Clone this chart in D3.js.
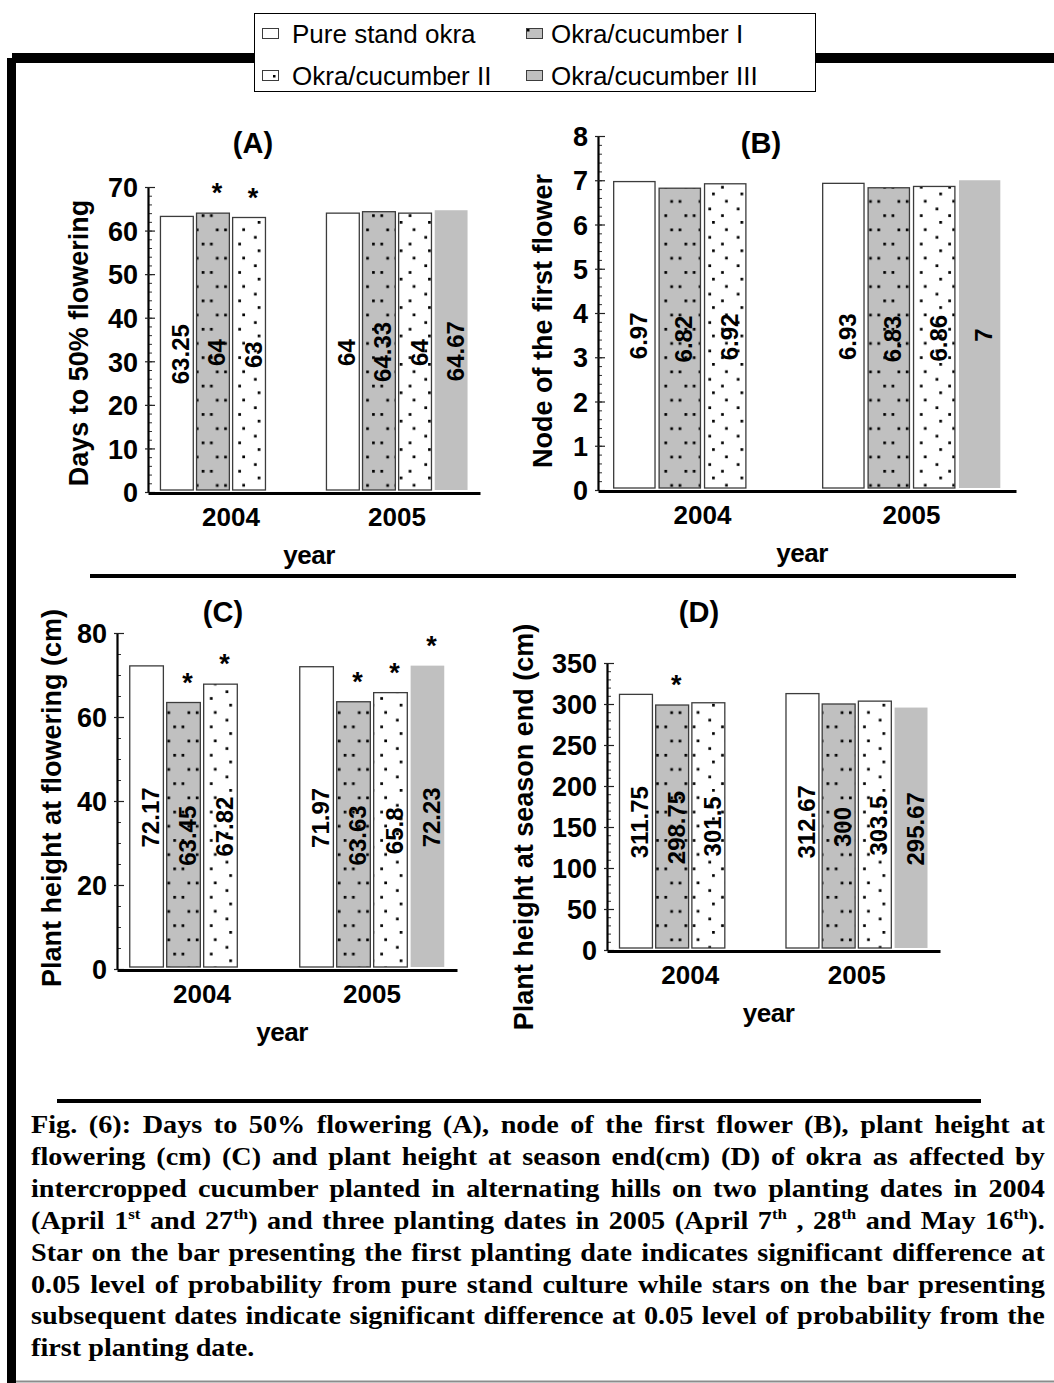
<!DOCTYPE html>
<html>
<head>
<meta charset="utf-8">
<script src="https://cdn.jsdelivr.net/npm/d3@7"></script>
<style>
  body { margin: 0; background: #fff; }
  svg { display: block; }
</style>
</head>
<body>
<svg id="fig" width="1054" height="1383"></svg>
<script>
// ---------------- data ----------------
const categories = ["2004", "2005"];
const seriesNames = ["Pure stand okra", "Okra/cucumber I", "Okra/cucumber II", "Okra/cucumber III"];

// one row per year, columns follow seriesNames (null = no third date that year)
const daysTo50Flowering = [[63.25, 64, 63, null], [64, 64.33, 64, 64.67]];
const nodeFirstFlower   = [[6.97, 6.82, 6.92, null], [6.93, 6.83, 6.86, 7]];
const heightAtFlowering = [[72.17, 63.45, 67.82, null], [71.97, 63.63, 65.8, 72.23]];
const heightSeasonEnd   = [[311.75, 298.75, 301.5, null], [312.67, 300, 303.5, 295.67]];

// significance stars (0.05 level)
const starsA = [[0, 1, 1, 0], [0, 0, 0, 0]];
const starsB = [[0, 0, 0, 0], [0, 0, 0, 0]];
const starsC = [[0, 1, 1, 0], [0, 1, 1, 1]];
const starsD = [[0, 1, 0, 0], [0, 0, 0, 0]];

// axis ticks
const ticksA = [0, 10, 20, 30, 40, 50, 60, 70];
const ticksB = [0, 1, 2, 3, 4, 5, 6, 7, 8];
const ticksC = [0, 20, 40, 60, 80];
const ticksD = [0, 50, 100, 150, 200, 250, 300, 350];
const minorStepA = 2, minorStepB = 0.2, minorStepC = 5, minorStepD = 10;

const titleA = "Days to 50% flowering";
const titleB = "Node of the first flower";
const titleC = "Plant height at flowering (cm)";
const titleD = "Plant height at  season end (cm)";

const captionLines = [
  [["Fig. (6): Days to 50% flowering (A), node of the first flower (B), plant height at"]],
  [["flowering (cm) (C) and plant height at season end(cm) (D) of okra as affected by"]],
  [["intercropped cucumber planted in alternating hills on two planting dates in 2004"]],
  [["(April 1"], ["st", 1], [" and 27"], ["th", 1], [") and three planting dates in 2005 (April 7"], ["th", 1],
   [" , 28"], ["th", 1], [" and May 16"], ["th", 1], [")."]],
  [["Star on the bar presenting the first planting date indicates significant difference at"]],
  [["0.05 level of probability from pure stand culture while stars on the bar presenting"]],
  [["subsequent dates indicate significant difference at 0.05 level of probability from the"]],
  [["first planting date."]]
];

// ---------------- setup ----------------
const W = 1054, H = 1383;
const SANS = "'Liberation Sans', Arial, Helvetica, sans-serif";
const SERIF = "'Liberation Serif', 'Times New Roman', serif";
const svg = d3.select("#fig");
const defs = svg.append("defs");

// dotted fills
const TILE = 28.4, DOT = 2.7;
function dotPattern(id, bg, dots, ox, oy) {
  const p = defs.append("pattern").attr("id", id)
    .attr("patternUnits", "userSpaceOnUse")
    .attr("x", ox).attr("y", oy)
    .attr("width", TILE).attr("height", TILE);
  p.append("rect").attr("width", TILE).attr("height", TILE).attr("fill", bg);
  dots.forEach(([x, y]) => p.append("rect").attr("x", x).attr("y", y)
    .attr("width", DOT).attr("height", DOT).attr("fill", "#000"));
}
dotPattern("patI", "#c0c0c0", [[0, 0], [8.3, 0], [14.2, 14.2], [22.5, 14.2]], 2.9, 15.5);
dotPattern("patII", "#ffffff", [[0, 0], [13, 7.3], [24.7, 15], [9, 21.7]], 2.1, 22.2);

const fills = ["#ffffff", "url(#patI)", "url(#patII)", "#c0c0c0"];
const strokes = ["#3c3c3c", "#3c3c3c", "#3c3c3c", "none"];

// ---------------- frame ----------------
svg.append("rect").attr("x", 12).attr("y", 53).attr("width", W - 12).attr("height", 10).attr("fill", "#000");
svg.append("rect").attr("x", 7).attr("y", 58).attr("width", 9).attr("height", H - 58).attr("fill", "#000");
svg.append("line").attr("x1", 16).attr("x2", W).attr("y1", 1381.5).attr("y2", 1381.5)
  .attr("stroke", "#8c8c8c").attr("stroke-width", 2);
svg.append("line").attr("x1", 90).attr("x2", 1016).attr("y1", 576).attr("y2", 576)
  .attr("stroke", "#000").attr("stroke-width", 4);
svg.append("line").attr("x1", 57).attr("x2", 981).attr("y1", 1101).attr("y2", 1101)
  .attr("stroke", "#000").attr("stroke-width", 4);

// ---------------- legend ----------------
const leg = svg.append("g");
leg.append("rect").attr("x", 254.5).attr("y", 13.5).attr("width", 561).attr("height", 78)
  .attr("fill", "#fff").attr("stroke", "#000").attr("stroke-width", 1);
const legCols = [262, 526], legText = [292, 551], legBase = [43, 85];
const legendDots = [null, [0, 0], [10, 4], null];
seriesNames.forEach((name, i) => {
  const c = i % 2, r = Math.floor(i / 2);
  const sy = legBase[r] - 15;
  leg.append("rect").attr("x", legCols[c] + 0.5).attr("y", sy + 0.5).attr("width", 16).attr("height", 10)
    .attr("fill", i === 1 || i === 3 ? "#c0c0c0" : "#fff").attr("stroke", "#3c3c3c").attr("stroke-width", 1);
  if (legendDots[i]) {
    leg.append("rect").attr("x", legCols[c] + 1 + legendDots[i][0]).attr("y", sy + 1 + legendDots[i][1])
      .attr("width", 2.5).attr("height", 2.5).attr("fill", "#000");
  }
  leg.append("text").attr("x", legText[c]).attr("y", legBase[r])
    .attr("font-family", SANS).attr("font-size", 26).attr("fill", "#000").text(name);
});

// ---------------- panels ----------------
const panels = [
  { values: daysTo50Flowering, stars: starsA, ticks: ticksA, minor: minorStepA, title: titleA, tag: "(A)",
    x0: 148, x1: 480, y0: 492, y1: 187, tagX: 253, tagY: 143, titleX: 88, titleY: 343 },
  { values: nodeFirstFlower, stars: starsB, ticks: ticksB, minor: minorStepB, title: titleB, tag: "(B)",
    x0: 598, x1: 1016, y0: 490, y1: 136, tagX: 761, tagY: 143, titleX: 552, titleY: 321 },
  { values: heightAtFlowering, stars: starsC, ticks: ticksC, minor: minorStepC, title: titleC, tag: "(C)",
    x0: 117, x1: 457, y0: 969, y1: 633, tagX: 223, tagY: 612, titleX: 61, titleY: 798 },
  { values: heightSeasonEnd, stars: starsD, ticks: ticksD, minor: minorStepD, title: titleD, tag: "(D)",
    x0: 607, x1: 940, y0: 950, y1: 663, tagX: 699, tagY: 612, titleX: 533, titleY: 827 }
];

function drawPanel(p) {
  const g = svg.append("g");
  const ymax = p.ticks[p.ticks.length - 1];
  const y = d3.scaleLinear().domain([0, ymax]).range([p.y0, p.y1]);
  const x0 = d3.scaleBand().domain(categories).range([p.x0, p.x1]).paddingInner(0.15).paddingOuter(0.075);
  const x1 = d3.scaleBand().domain(d3.range(seriesNames.length)).range([0, x0.bandwidth()]).paddingInner(0.09);

  const recs = [];
  categories.forEach((cat, ci) => p.values[ci].forEach((v, si) => {
    if (v != null) recs.push({ cat, si, v, star: p.stars[ci][si] });
  }));

  // bars
  g.selectAll("rect.bar").data(recs).join("rect").attr("class", "bar")
    .attr("x", d => x0(d.cat) + x1(d.si))
    .attr("y", d => y(d.v))
    .attr("width", x1.bandwidth())
    .attr("height", d => y(0) - y(d.v) - 2)
    .attr("fill", d => fills[d.si])
    .attr("stroke", d => strokes[d.si])
    .attr("stroke-width", 1.3);

  // value labels, centred in the bar
  g.selectAll("text.val").data(recs).join("text").attr("class", "val")
    .attr("transform", d => `translate(${x0(d.cat) + x1(d.si) + x1.bandwidth() / 2 + 4},${(y(d.v) + y(0)) / 2}) rotate(-90)`)
    .attr("text-anchor", "middle").attr("dominant-baseline", "central")
    .attr("font-family", SANS).attr("font-size", 24).attr("font-weight", "bold").attr("fill", "#000")
    .text(d => String(d.v));

  // stars
  g.selectAll("text.star").data(recs.filter(d => d.star)).join("text").attr("class", "star")
    .attr("x", d => x0(d.cat) + x1(d.si) + x1.bandwidth() / 2 + 4)
    .attr("y", d => y(d.v) - 11)
    .attr("text-anchor", "middle")
    .attr("font-family", SANS).attr("font-size", 27).attr("font-weight", "bold").attr("fill", "#000")
    .text("*");

  // minor ticks
  const minorVals = d3.range(0, ymax + p.minor / 2, p.minor).map(v => +v.toFixed(4));
  const minorAx = g.append("g").attr("transform", `translate(${p.x0},0)`)
    .call(d3.axisLeft(y).tickValues(minorVals).tickSize(-4).tickFormat(""));
  minorAx.select(".domain").remove();
  minorAx.selectAll("line").attr("stroke", "#333").attr("stroke-width", 1);

  // y axis
  const yAx = g.append("g").attr("transform", `translate(${p.x0},0)`)
    .call(d3.axisLeft(y).tickValues(p.ticks).tickSizeInner(-7).tickSizeOuter(0).tickPadding(10));
  yAx.select(".domain").attr("stroke", "#000").attr("stroke-width", 2.2);
  yAx.selectAll(".tick line").attr("stroke", "#222").attr("stroke-width", 1.2).attr("x1", -3);
  yAx.selectAll("text").attr("font-family", SANS).attr("font-size", 27).attr("font-weight", "bold")
    .attr("fill", "#000").attr("dy", "0.36em");

  // x axis
  const xAx = g.append("g").attr("transform", `translate(0,${p.y0 + 1})`)
    .call(d3.axisBottom(x0).tickSize(0).tickSizeOuter(0));
  xAx.select(".domain").attr("stroke", "#000").attr("stroke-width", 3);
  xAx.selectAll("text").attr("y", 24).attr("dy", "0.36em")
    .attr("font-family", SANS).attr("font-size", 26).attr("font-weight", "bold").attr("fill", "#000");

  // axis titles and panel tag
  g.append("text").attr("x", (p.x0 + p.x1) / 2 - 5).attr("y", p.y0 + 63).attr("dy", "0.36em")
    .attr("text-anchor", "middle").attr("font-family", SANS).attr("font-size", 26).attr("font-weight", "bold")
    .attr("letter-spacing", -0.5).text("year");
  g.append("text").attr("transform", `translate(${p.titleX},${p.titleY}) rotate(-90)`)
    .attr("text-anchor", "middle").attr("font-family", SANS).attr("font-size", 27).attr("font-weight", "bold")
    .text(p.title);
  g.append("text").attr("x", p.tagX).attr("y", p.tagY).attr("dy", "0.36em")
    .attr("text-anchor", "middle").attr("font-family", SANS).attr("font-size", 29).attr("font-weight", "bold")
    .text(p.tag);
}
panels.forEach(drawPanel);

// ---------------- caption (justified, slightly widened serif) ----------------
const capLeft = 31, capRight = 1045, capBase = 1133, capStep = 31.9;
const capTexts = captionLines.map((segs, li) => {
  const t = svg.append("text")
    .attr("font-family", SERIF).attr("font-size", 25).attr("font-weight", "bold").attr("fill", "#000")
    .attr("xml:space", "preserve");
  let raised = false;
  segs.forEach(([s, sup]) => {
    const ts = t.append("tspan").text(s);
    if (sup) { ts.attr("font-size", 15).attr("dy", raised ? 0 : -10); raised = true; }
    else if (raised) { ts.attr("dy", 10); raised = false; }
  });
  const natural = t.node().getComputedTextLength();
  const spaces = segs.map(s => s[0]).join("").split(" ").length - 1;
  return { t, natural, spaces, li };
});
const target = capRight - capLeft;
const widest = d3.max(capTexts.slice(0, -1), c => c.natural);
const stretch = target / widest * 0.985;
capTexts.forEach(c => {
  c.t.attr("transform", `translate(${capLeft},${capBase + c.li * capStep}) scale(${stretch},1)`);
  if (c.li < capTexts.length - 1) {
    c.t.attr("word-spacing", (target / stretch - c.natural) / c.spaces);
  }
});
</script>
</body>
</html>
